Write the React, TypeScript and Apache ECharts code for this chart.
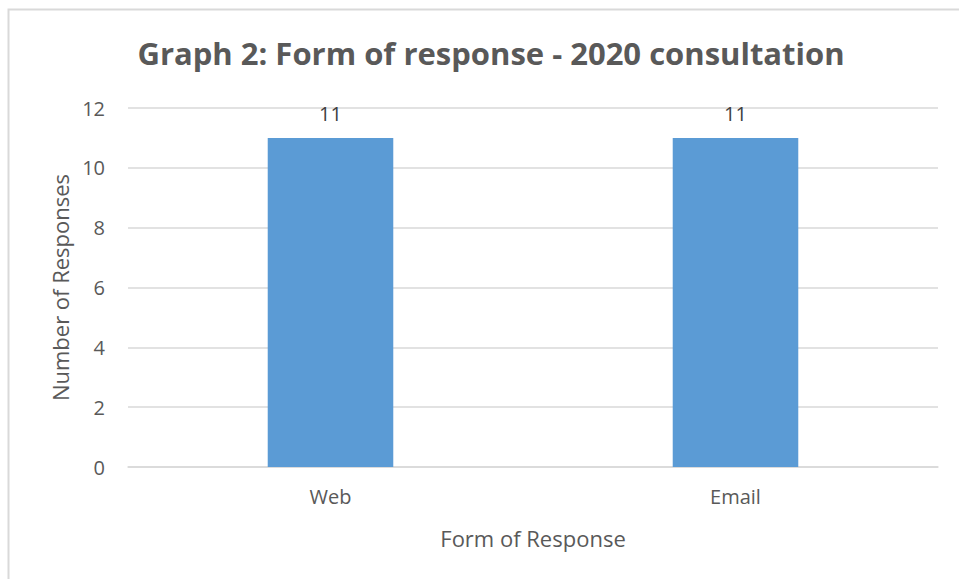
import React, { useEffect, useRef } from "react";
import * as echarts from "echarts";

const categories = ["Web", "Email"];
const responses = [11, 11];
const yTicks = { min: 0, max: 12, interval: 2 };
const titleText = "Graph 2: Form of response - 2020 consultation";
const xAxisName = "Form of Response";
const yAxisName = "Number of Responses";

export default function App() {
  const ref = useRef<HTMLDivElement>(null);
  useEffect(() => {
    const chart = echarts.init(ref.current!, null, { renderer: "svg" });
    const font = "'Open Sans', 'Noto Sans', sans-serif";
    chart.setOption({
      animation: false,
      backgroundColor: "#ffffff",
      textStyle: { fontFamily: font },
      title: {
        text: titleText,
        left: 486,
        top: 32,
        textAlign: "center",
        textStyle: { fontSize: 31, fontWeight: "bold", color: "#595959", fontFamily: font },
      },
      graphic: [
        {
          type: "rect",
          shape: { x: 8.5, y: 9.5, width: 1000, height: 1000 },
          style: { fill: "none", stroke: "#d9d9d9", lineWidth: 2 },
          silent: true,
        },
      ],
      grid: { left: 128, right: 21, top: 108, bottom: 112 },
      xAxis: {
        type: "category",
        data: categories,
        axisLine: { show: true, lineStyle: { color: "#d9d9d9", width: 1.5 } },
        axisTick: { show: false },
        axisLabel: { color: "#595959", fontSize: 20, margin: 19 },
        name: xAxisName,
        nameLocation: "middle",
        nameGap: 60,
        nameTextStyle: { color: "#595959", fontSize: 22 },
      },
      yAxis: {
        type: "value",
        min: yTicks.min,
        max: yTicks.max,
        interval: yTicks.interval,
        axisLine: { show: false },
        axisTick: { show: false },
        splitLine: { lineStyle: { color: "#d9d9d9", width: 1.5 } },
        axisLabel: { color: "#595959", fontSize: 20, margin: 23 },
        name: yAxisName,
        nameLocation: "middle",
        nameGap: 56,
        nameRotate: 90,
        nameTextStyle: { color: "#595959", fontSize: 22 },
      },
      series: [
        {
          type: "bar",
          data: responses,
          barWidth: "31%",
          itemStyle: { color: "#5b9bd5" },
          label: {
            show: true,
            position: "top",
            distance: 14,
            color: "#404040",
            fontSize: 20,
          },
        },
      ],
    });
    return () => chart.dispose();
  }, []);
  return (
    <div
      ref={ref}
      style={{ position: "fixed", left: 0, top: 0, width: 959, height: 579 }}
    />
  );
}
